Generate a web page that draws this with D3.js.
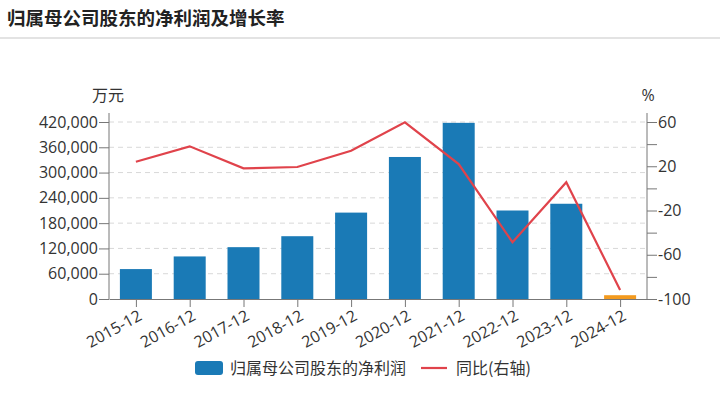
<!DOCTYPE html>
<html>
<head>
<meta charset="utf-8">
<script src="https://cdn.jsdelivr.net/npm/d3@7"></script>
<style>
  body { margin: 0; background: #fff; }
  text { font-family: "Open Sans", "Noto Sans CJK SC", sans-serif; fill: #333; }
  .cjk { font-family: "Noto Sans CJK SC", sans-serif; }
</style>
</head>
<body>
<svg id="chart" width="720" height="397"></svg>
<script>
// data
var categories = ["2015-12", "2016-12", "2017-12", "2018-12", "2019-12", "2020-12", "2021-12", "2022-12", "2023-12", "2024-12"];
var profit = [71000, 101000, 123000, 149000, 205000, 337000, 418000, 210000, 226000, 9000];
var yoy = [24.1, 38, 18.1, 19.3, 34, 59.7, 22, -48.7, 5.5, -91.9];
var leftTicks = [0, 60000, 120000, 180000, 240000, 300000, 360000, 420000];
var rightTicks = [60, 40, 20, 0, -20, -40, -60, -80, -100];
var rightLabels = [60, 20, -20, -60, -100];

var svg = d3.select("#chart");
var plotLeft = 109, plotRight = 647, plotTop = 122, plotBottom = 299;

var xc = d3.scalePoint().domain(categories).range([plotLeft, plotRight]).padding(0.5);
var yL = d3.scaleLinear().domain([0, 420000]).range([plotBottom, plotTop]);
var yR = d3.scaleLinear().domain([-100, 60]).range([plotBottom, plotTop]);

// title
svg.append("text").attr("class", "cjk").attr("x", 7).attr("y", 25)
  .style("font-size", "18.5px").style("font-weight", "bold").style("fill", "#222")
  .text("归属母公司股东的净利润及增长率");
svg.append("rect").attr("x", 0).attr("y", 37).attr("width", 720).attr("height", 2).attr("fill", "#e3e3e3");

// grid
svg.append("g").selectAll("line").data(leftTicks.slice(1)).enter().append("line")
  .attr("x1", plotLeft).attr("x2", plotRight)
  .attr("y1", function(d) { return yL(d); }).attr("y2", function(d) { return yL(d); })
  .attr("stroke", "#d8d8d8").attr("stroke-dasharray", "5,4");

// bars
var barW = 32;
svg.append("g").selectAll("rect").data(profit).enter().append("rect")
  .attr("x", function(d, i) { return xc(categories[i]) - barW / 2; })
  .attr("y", function(d) { return yL(d); })
  .attr("width", barW)
  .attr("height", function(d) { return plotBottom - yL(d); })
  .attr("fill", function(d, i) { return i == categories.length - 1 ? "#f39a1e" : "#1a7ab6"; });

// line
var line = d3.line()
  .x(function(d, i) { return xc(categories[i]); })
  .y(function(d) { return yR(d); });
svg.append("path").datum(yoy).attr("d", line)
  .attr("fill", "none").attr("stroke", "#e0434b").attr("stroke-width", 2.2);

// left axis
var axisL = svg.append("g").attr("transform", "translate(" + plotLeft + ",0)")
  .call(d3.axisLeft(yL).tickValues(leftTicks).tickSize(10).tickPadding(1).tickFormat(d3.format(",")));
axisL.select(".domain").remove();
axisL.selectAll("line").attr("stroke", "#777");
axisL.selectAll("text").style("font-size", "16px").style("fill", "#333");
svg.append("line").attr("x1", plotLeft).attr("x2", plotLeft).attr("y1", 113).attr("y2", plotBottom).attr("stroke", "#777");

// right axis
var axisR = svg.append("g").attr("transform", "translate(" + plotRight + ",0)")
  .call(d3.axisRight(yR).tickValues(rightTicks).tickSize(10).tickPadding(1)
    .tickFormat(function(d) { return rightLabels.indexOf(d) >= 0 ? d : ""; }));
axisR.select(".domain").remove();
axisR.selectAll("line").attr("stroke", "#777");
axisR.selectAll("text").style("font-size", "16px").style("fill", "#333");
svg.append("line").attr("x1", plotRight).attr("x2", plotRight).attr("y1", 113).attr("y2", plotBottom).attr("stroke", "#777");

// x axis
var axisX = svg.append("g").attr("transform", "translate(0," + plotBottom + ")")
  .call(d3.axisBottom(xc).tickSize(8).tickSizeOuter(0));
axisX.select(".domain").attr("stroke", "#777");
axisX.selectAll("line").attr("stroke", "#777");
axisX.selectAll("text")
  .style("font-size", "16px").style("fill", "#333")
  .style("text-anchor", "end")
  .attr("x", 0).attr("y", 0).attr("dy", "0.72em")
  .attr("transform", "translate(1,10) rotate(-29)");

// unit labels
svg.append("text").attr("class", "cjk").attr("x", 108).attr("y", 101).attr("text-anchor", "middle")
  .style("font-size", "16px").text("万元");
svg.append("text").attr("x", 648).attr("y", 101).attr("text-anchor", "middle")
  .style("font-size", "16px").text("%");

// legend
var lg = svg.append("g");
lg.append("rect").attr("x", 195).attr("y", 361).attr("width", 28).attr("height", 14).attr("rx", 3).attr("fill", "#1a7ab6");
lg.append("text").attr("class", "cjk").attr("x", 230).attr("y", 374).style("font-size", "16px").text("归属母公司股东的净利润");
lg.append("line").attr("x1", 421).attr("x2", 447).attr("y1", 368).attr("y2", 368).attr("stroke", "#e0434b").attr("stroke-width", 2.2);
lg.append("text").attr("class", "cjk").attr("x", 456).attr("y", 374).style("font-size", "16px").text("同比(右轴)");
</script>
</body>
</html>
